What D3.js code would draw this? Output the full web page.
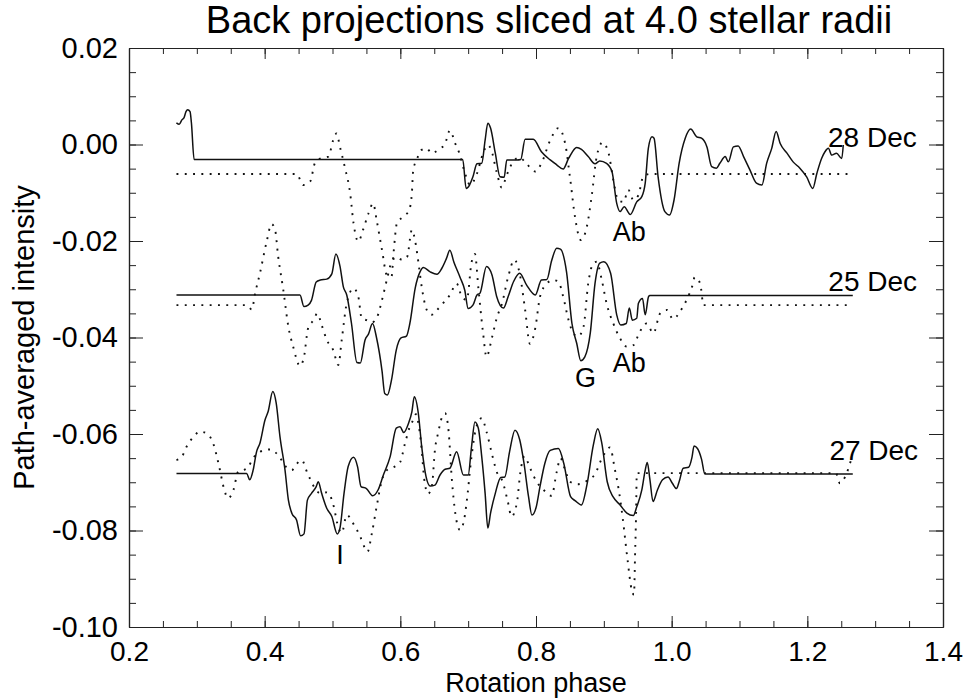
<!DOCTYPE html>
<html><head><meta charset="utf-8">
<script src="https://cdn.jsdelivr.net/npm/d3@7"></script>
<style>
body{margin:0;background:#fff}
text{font-family:"Liberation Sans",Arial,Helvetica,sans-serif;fill:#000}
</style>
</head><body><svg id="c" width="967" height="698"></svg>
<script>
// ---- data ----
const xTicks=[0.2,0.4,0.6,0.8,1.0,1.2,1.4];
const yTicks=[0.02,0.00,-0.02,-0.04,-0.06,-0.08,-0.10];
const dateLabels=["28 Dec","25 Dec","27 Dec"];
const title="Back projections sliced at 4.0 stellar radii";
const xTitle="Rotation phase";
const yTitle="Path-averaged intensity";

const solid28=[[0.270,0.0045],[0.274,0.0042],[0.278,0.0051],[0.281,0.0055],[0.284,0.0068],[0.2865,0.0072],[0.290,0.0068],[0.292,0.0045],[0.296,-0.0031],[0.692,-0.0031],[0.697,-0.0091],[0.702,-0.0084],[0.707,-0.0067],[0.713,-0.0040],[0.720,-0.0039],[0.725,0.0009],[0.729,0.0044],[0.733,0.0034],[0.740,-0.0018],[0.747,-0.0067],[0.753,-0.0068],[0.757,-0.0032],[0.772,-0.0032],[0.7775,-0.0031],[0.784,0.0011],[0.796,0.0011],[0.808,-0.0015],[0.821,-0.0032],[0.8305,-0.0042],[0.840,-0.0051],[0.848,-0.0029],[0.860,-0.0006],[0.867,-0.0010],[0.877,-0.0025],[0.887,-0.0040],[0.894,-0.0034],[0.904,-0.0039],[0.912,-0.0056],[0.919,-0.0122],[0.924,-0.0139],[0.930,-0.0129],[0.939,-0.0145],[0.9485,-0.0119],[0.956,-0.0108],[0.961,-0.0080],[0.9656,-0.0008],[0.971,0.0016],[0.974,0.0013],[0.980,-0.0067],[0.990,-0.0139],[0.997,-0.0146],[1.0035,-0.0115],[1.011,-0.0039],[1.020,0.0013],[1.028,0.0032],[1.037,0.0016],[1.044,0.0013],[1.052,-0.0005],[1.059,-0.0046],[1.066,-0.0049],[1.071,-0.0039],[1.079,-0.0025],[1.0835,-0.0036],[1.091,-0.0005],[1.098,-0.0003],[1.106,-0.0025],[1.1155,-0.0053],[1.125,-0.0080],[1.133,-0.0084],[1.140,-0.0039],[1.1475,-0.0008],[1.154,0.0027],[1.160,0.0002],[1.170,-0.0018],[1.179,-0.0036],[1.189,-0.0049],[1.199,-0.0067],[1.208,-0.0091],[1.214,-0.0060],[1.221,-0.0029],[1.226,-0.0015],[1.231,-0.0008],[1.236,-0.0022],[1.243,-0.0018],[1.2507,-0.0029],[1.253,-0.0001]];

const dotted28=[[0.270,-0.0061],[0.447,-0.0061],[0.457,-0.0084],[0.467,-0.0077],[0.474,-0.0039],[0.482,-0.0029],[0.494,-0.0025],[0.501,0.0009],[0.506,0.0023],[0.511,-0.0005],[0.518,-0.0046],[0.526,-0.0101],[0.531,-0.0163],[0.538,-0.0201],[0.545,-0.0177],[0.553,-0.0143],[0.560,-0.0122],[0.565,-0.0156],[0.573,-0.0219],[0.580,-0.0270],[0.587,-0.0274],[0.590,-0.0225],[0.595,-0.0163],[0.604,-0.0150],[0.613,-0.0136],[0.617,-0.0101],[0.619,-0.0053],[0.624,-0.0032],[0.6315,-0.0011],[0.639,-0.0008],[0.646,-0.0018],[0.656,-0.0011],[0.666,0.0002],[0.673,0.0029],[0.681,0.0002],[0.687,-0.0018],[0.694,-0.0053],[0.703,-0.0084],[0.713,-0.0060],[0.722,-0.0018],[0.729,-0.0001],[0.734,-0.0011],[0.742,-0.0057],[0.7495,-0.0089],[0.757,-0.0063],[0.767,-0.0034],[0.776,-0.0027],[0.786,-0.0040],[0.799,-0.0056],[0.808,-0.0039],[0.821,0.0009],[0.833,0.0034],[0.843,0.0002],[0.850,-0.0067],[0.8575,-0.0150],[0.866,-0.0198],[0.875,-0.0170],[0.882,-0.0108],[0.8895,-0.0025],[0.898,0.0004],[0.907,-0.0018],[0.914,-0.0074],[0.921,-0.0115],[0.929,-0.0119],[0.936,-0.0094],[0.9435,-0.0115],[0.951,-0.0105],[0.958,-0.0067],[0.968,-0.0061],[1.263,-0.0061]];

const solid25=[[0.270,-0.0312],[0.452,-0.0312],[0.458,-0.0336],[0.464,-0.0333],[0.469,-0.0323],[0.476,-0.0285],[0.482,-0.0281],[0.4915,-0.0279],[0.499,-0.0268],[0.505,-0.0227],[0.511,-0.0252],[0.516,-0.0295],[0.521,-0.0312],[0.528,-0.0371],[0.536,-0.0452],[0.541,-0.0453],[0.548,-0.0405],[0.553,-0.0393],[0.559,-0.0371],[0.565,-0.0401],[0.573,-0.0469],[0.577,-0.0516],[0.581,-0.0519],[0.587,-0.0488],[0.594,-0.0426],[0.601,-0.0401],[0.609,-0.0397],[0.614,-0.0371],[0.622,-0.0297],[0.629,-0.0264],[0.634,-0.0255],[0.644,-0.0264],[0.654,-0.0269],[0.661,-0.0257],[0.668,-0.0236],[0.673,-0.0219],[0.679,-0.0244],[0.688,-0.0275],[0.695,-0.0302],[0.700,-0.0340],[0.707,-0.0333],[0.713,-0.0312],[0.7175,-0.0308],[0.727,-0.0253],[0.735,-0.0270],[0.742,-0.0315],[0.752,-0.0339],[0.759,-0.0315],[0.767,-0.0284],[0.776,-0.0267],[0.786,-0.0291],[0.799,-0.0312],[0.808,-0.0281],[0.816,-0.0280],[0.823,-0.0241],[0.8305,-0.0215],[0.836,-0.0217],[0.845,-0.0264],[0.853,-0.0371],[0.860,-0.0412],[0.866,-0.0448],[0.872,-0.0440],[0.880,-0.0391],[0.887,-0.0288],[0.894,-0.0246],[0.900,-0.0243],[0.910,-0.0267],[0.919,-0.0353],[0.925,-0.0374],[0.933,-0.0371],[0.9376,-0.0339],[0.942,-0.0364],[0.9485,-0.0360],[0.951,-0.0329],[0.957,-0.0319],[0.961,-0.0353],[0.966,-0.0315],[0.968,-0.0313],[1.267,-0.0313]];

const dotted25=[[0.270,-0.0333],[0.3735,-0.0333],[0.381,-0.0342],[0.386,-0.0308],[0.393,-0.0267],[0.403,-0.0201],[0.410,-0.0165],[0.415,-0.0174],[0.420,-0.0233],[0.4275,-0.0302],[0.435,-0.0378],[0.442,-0.0419],[0.452,-0.0459],[0.458,-0.0440],[0.464,-0.0381],[0.472,-0.0364],[0.4776,-0.0350],[0.484,-0.0374],[0.4915,-0.0405],[0.501,-0.0426],[0.5086,-0.0457],[0.5136,-0.0405],[0.521,-0.0329],[0.531,-0.0298],[0.538,-0.0315],[0.543,-0.0360],[0.550,-0.0364],[0.558,-0.0369],[0.566,-0.0357],[0.573,-0.0322],[0.580,-0.0281],[0.587,-0.0244],[0.595,-0.0233],[0.6025,-0.0239],[0.610,-0.0233],[0.617,-0.0177],[0.622,-0.0201],[0.6265,-0.0243],[0.6315,-0.0295],[0.639,-0.0343],[0.646,-0.0353],[0.654,-0.0343],[0.663,-0.0329],[0.673,-0.0312],[0.683,-0.0288],[0.6905,-0.0315],[0.698,-0.0322],[0.705,-0.0244],[0.710,-0.0227],[0.715,-0.0297],[0.722,-0.0391],[0.727,-0.0440],[0.735,-0.0401],[0.742,-0.0360],[0.750,-0.0329],[0.759,-0.0274],[0.768,-0.0239],[0.776,-0.0268],[0.784,-0.0343],[0.791,-0.0413],[0.799,-0.0380],[0.806,-0.0315],[0.816,-0.0288],[0.8255,-0.0281],[0.833,-0.0284],[0.840,-0.0315],[0.848,-0.0364],[0.855,-0.0391],[0.862,-0.0398],[0.870,-0.0378],[0.877,-0.0288],[0.8845,-0.0246],[0.8895,-0.0243],[0.897,-0.0281],[0.904,-0.0329],[0.914,-0.0371],[0.924,-0.0402],[0.934,-0.0419],[0.9435,-0.0416],[0.953,-0.0388],[0.963,-0.0371],[0.973,-0.0391],[0.983,-0.0350],[0.993,-0.0343],[1.002,-0.0362],[1.012,-0.0347],[1.022,-0.0322],[1.030,-0.0295],[1.034,-0.0275],[1.042,-0.0288],[1.047,-0.0333],[1.263,-0.0333]];

const solid27=[[0.270,-0.0682],[0.3735,-0.0682],[0.378,-0.0695],[0.383,-0.0675],[0.388,-0.0637],[0.393,-0.0619],[0.4005,-0.0571],[0.405,-0.0554],[0.412,-0.0512],[0.417,-0.0536],[0.4226,-0.0606],[0.430,-0.0675],[0.435,-0.0737],[0.440,-0.0764],[0.447,-0.0778],[0.453,-0.0811],[0.458,-0.0807],[0.463,-0.0737],[0.469,-0.0723],[0.476,-0.0709],[0.479,-0.0699],[0.484,-0.0723],[0.4915,-0.0754],[0.499,-0.0771],[0.507,-0.0807],[0.511,-0.0795],[0.517,-0.0723],[0.523,-0.0668],[0.531,-0.0648],[0.537,-0.0668],[0.542,-0.0709],[0.550,-0.0713],[0.559,-0.0728],[0.5675,-0.0715],[0.575,-0.0685],[0.585,-0.0647],[0.594,-0.0588],[0.5995,-0.0585],[0.605,-0.0597],[0.612,-0.0578],[0.617,-0.0554],[0.6206,-0.0523],[0.6265,-0.0557],[0.6315,-0.0626],[0.638,-0.0689],[0.644,-0.0708],[0.651,-0.0706],[0.6585,-0.0685],[0.666,-0.0673],[0.673,-0.0671],[0.683,-0.0637],[0.693,-0.0685],[0.700,-0.0685],[0.705,-0.0626],[0.710,-0.0575],[0.715,-0.0588],[0.720,-0.0647],[0.725,-0.0723],[0.729,-0.0795],[0.733,-0.0764],[0.740,-0.0723],[0.748,-0.0690],[0.754,-0.0689],[0.761,-0.0637],[0.769,-0.0592],[0.776,-0.0612],[0.782,-0.0658],[0.789,-0.0730],[0.794,-0.0768],[0.800,-0.0753],[0.806,-0.0708],[0.813,-0.0661],[0.821,-0.0634],[0.833,-0.0630],[0.841,-0.0661],[0.851,-0.0730],[0.8575,-0.0738],[0.867,-0.0747],[0.875,-0.0706],[0.8845,-0.0623],[0.891,-0.0589],[0.897,-0.0619],[0.905,-0.0699],[0.914,-0.0731],[0.924,-0.0747],[0.934,-0.0764],[0.9435,-0.0769],[0.9485,-0.0751],[0.956,-0.0716],[0.961,-0.0675],[0.964,-0.0659],[0.968,-0.0695],[0.9725,-0.0740],[0.979,-0.0716],[0.9865,-0.0695],[0.9946,-0.0689],[1.001,-0.0702],[1.007,-0.0713],[1.011,-0.0699],[1.017,-0.0671],[1.025,-0.0669],[1.030,-0.0648],[1.033,-0.0625],[1.038,-0.0630],[1.044,-0.0652],[1.049,-0.0683],[1.267,-0.0683]];

const dotted27=[[0.270,-0.0654],[0.278,-0.0647],[0.285,-0.0626],[0.295,-0.0606],[0.305,-0.0595],[0.3146,-0.0599],[0.324,-0.0619],[0.333,-0.0668],[0.340,-0.0713],[0.346,-0.0733],[0.354,-0.0716],[0.361,-0.0678],[0.3685,-0.0675],[0.376,-0.0668],[0.383,-0.0650],[0.393,-0.0637],[0.408,-0.0632],[0.421,-0.0646],[0.4315,-0.0668],[0.440,-0.0675],[0.446,-0.0664],[0.4546,-0.0654],[0.463,-0.0681],[0.474,-0.0712],[0.482,-0.0723],[0.4915,-0.0721],[0.502,-0.0751],[0.507,-0.0785],[0.5136,-0.0805],[0.521,-0.0768],[0.532,-0.0789],[0.541,-0.0813],[0.548,-0.0837],[0.5516,-0.0844],[0.558,-0.0806],[0.565,-0.0751],[0.573,-0.0695],[0.580,-0.0675],[0.590,-0.0669],[0.5995,-0.0659],[0.607,-0.0619],[0.614,-0.0585],[0.619,-0.0571],[0.623,-0.0559],[0.627,-0.0581],[0.6315,-0.0633],[0.635,-0.0691],[0.641,-0.0724],[0.6467,-0.0706],[0.651,-0.0633],[0.656,-0.0596],[0.660,-0.0571],[0.666,-0.0557],[0.671,-0.0592],[0.676,-0.0695],[0.681,-0.0764],[0.688,-0.0799],[0.694,-0.0778],[0.699,-0.0726],[0.704,-0.0658],[0.7116,-0.0588],[0.720,-0.0567],[0.727,-0.0595],[0.735,-0.0641],[0.742,-0.0678],[0.7506,-0.0698],[0.758,-0.0737],[0.764,-0.0771],[0.772,-0.0741],[0.777,-0.0679],[0.783,-0.0646],[0.791,-0.0670],[0.801,-0.0699],[0.812,-0.0717],[0.823,-0.0728],[0.8305,-0.0679],[0.836,-0.0650],[0.843,-0.0675],[0.850,-0.0699],[0.862,-0.0704],[0.875,-0.0697],[0.887,-0.0683],[0.898,-0.0648],[0.909,-0.0628],[0.9165,-0.0675],[0.922,-0.0716],[0.9276,-0.0772],[0.935,-0.0861],[0.941,-0.0923],[0.9445,-0.0933],[0.946,-0.0853],[0.9475,-0.0768],[0.9486,-0.0681],[1.242,-0.0681],[1.248,-0.0702],[1.2556,-0.0689],[1.264,-0.0656]];

// annotations: [label, phase, intensity]
const notes=[["28 Dec",1.2305,-0.0005],["25 Dec",1.231,-0.0303],["27 Dec",1.2325,-0.0654],["Ab",0.913,-0.0201],["Ab",0.913,-0.0472],["G",0.8575,-0.0502],["I",0.511,-0.0869]];

// ---- drawing ----
const svg=d3.select("#c");
const L=129,R=943,T=48,B=627;
const x=d3.scaleLinear().domain([0.2,1.4]).range([L,R]);
const y=d3.scaleLinear().domain([-0.10,0.02]).range([B,T]);

const xMinor=d3.range(0.2,1.4001,0.05).map(v=>+v.toFixed(2));
const yMinor=d3.range(-0.10,0.02001,0.005).map(v=>+v.toFixed(3));

function styleAxis(g){
  g.selectAll("path.domain").attr("stroke","#222").attr("stroke-width",1.2);
  g.selectAll(".tick line").attr("stroke","#222").attr("stroke-width",1);
}
// bottom
svg.append("g").attr("transform",`translate(0,${B})`)
  .call(d3.axisBottom(x).tickValues(xMinor).tickSizeInner(-6).tickSizeOuter(0).tickFormat(""))
  .call(styleAxis);
const gb=svg.append("g").attr("transform",`translate(0,${B})`)
  .call(d3.axisBottom(x).tickValues(xTicks).tickSizeInner(-11).tickSizeOuter(0).tickPadding(14).tickFormat(d=>d.toFixed(1)))
  .call(styleAxis);
gb.selectAll("text").attr("font-size",28).attr("fill","#000");
// top
svg.append("g").attr("transform",`translate(0,${T})`)
  .call(d3.axisTop(x).tickValues(xMinor).tickSizeInner(-6).tickSizeOuter(0).tickFormat(""))
  .call(styleAxis);
svg.append("g").attr("transform",`translate(0,${T})`)
  .call(d3.axisTop(x).tickValues(xTicks).tickSizeInner(-11).tickSizeOuter(0).tickFormat(""))
  .call(styleAxis);
// left
svg.append("g").attr("transform",`translate(${L},0)`)
  .call(d3.axisLeft(y).tickValues(yMinor).tickSizeInner(-7).tickSizeOuter(0).tickFormat(""))
  .call(styleAxis);
const gl=svg.append("g").attr("transform",`translate(${L},0)`)
  .call(d3.axisLeft(y).tickValues(yTicks).tickSizeInner(-14).tickSizeOuter(0).tickPadding(11).tickFormat(d=>(Math.abs(d)<1e-9?0:d).toFixed(2)))
  .call(styleAxis);
gl.selectAll("text").attr("font-size",29).attr("fill","#000");
// right
svg.append("g").attr("transform",`translate(${R},0)`)
  .call(d3.axisRight(y).tickValues(yMinor).tickSizeInner(-7).tickSizeOuter(0).tickFormat(""))
  .call(styleAxis);
svg.append("g").attr("transform",`translate(${R},0)`)
  .call(d3.axisRight(y).tickValues(yTicks).tickSizeInner(-14).tickSizeOuter(0).tickFormat(""))
  .call(styleAxis);

// curves
const line=d3.line().x(d=>x(d[0])).y(d=>y(d[1])).curve(d3.curveMonotoneX);
[solid28,solid25,solid27].forEach(s=>{
  svg.append("path").datum(s).attr("d",line).attr("fill","none")
    .attr("stroke","#111").attr("stroke-width",1.5).attr("stroke-linejoin","round");
});
[dotted28,dotted25,dotted27].forEach(s=>{
  svg.append("path").datum(s).attr("d",line).attr("fill","none")
    .attr("stroke","#111").attr("stroke-width",1.9).attr("stroke-dasharray","1.9,6.4");
});

// annotations
notes.forEach(n=>{
  svg.append("text").attr("x",x(n[1])).attr("y",y(n[2]))
    .attr("text-anchor",n[0]==="I"?"middle":"start")
    .attr("font-size",n[0].length>2?28:27).text(n[0]);
});

// titles
svg.append("text").attr("x",549).attr("y",33).attr("text-anchor","middle").attr("font-size",38).text(title);
svg.append("text").attr("x",(L+R)/2).attr("y",692).attr("text-anchor","middle").attr("font-size",27).text(xTitle);
svg.append("text").attr("transform",`translate(34,${(T+B)/2}) rotate(-90)`).attr("text-anchor","middle").attr("font-size",29).text(yTitle);
</script></body></html>
